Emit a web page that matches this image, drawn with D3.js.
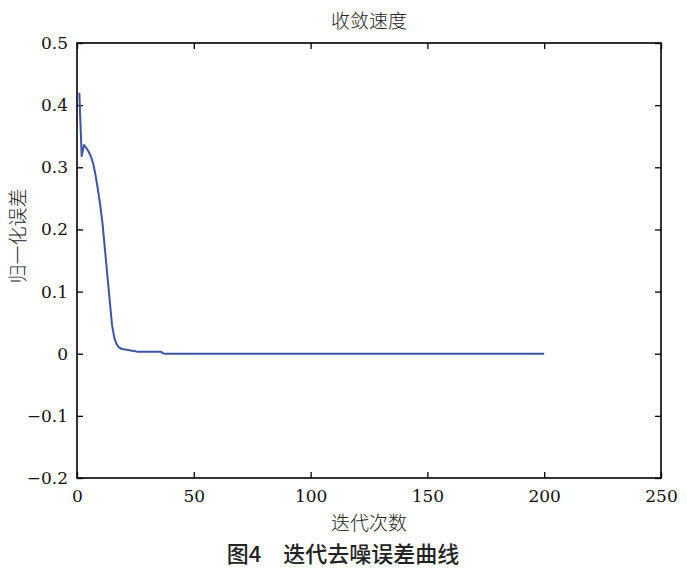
<!DOCTYPE html>
<html><head><meta charset="utf-8">
<script src="https://cdn.jsdelivr.net/npm/d3@7"></script>
<style>body{margin:0;background:#fff}svg{display:block}</style>
</head><body>
<script>
const iterations = [1,2,3,4,5,6,7,8,9,10,11,12,13,14,15,16,17,18,19,20,22,23,25,26,30,35,36,37,38,200];
const errors = [0.420,0.318,0.336,0.331,0.325,0.317,0.305,0.286,0.263,0.238,0.207,0.166,0.126,0.086,0.046,0.025,0.015,0.010,0.008,0.007,0.006,0.005,0.004,0.003,0.003,0.003,0.003,0.0005,0,0];
const xTicks = [0,50,100,150,200,250];
const yTicks = [-0.2,-0.1,0,0.1,0.2,0.3,0.4,0.5];
const titleText = "收敛速度";
const xLabel = "迭代次数";
const yLabel = "归一化误差";
const caption = "图4　迭代去噪误差曲线";

const W = 687, H = 571;
const m = {left:77, right:661, top:43, bottom:478};
const svg = d3.select("body").append("svg").attr("width",W).attr("height",H);
const x = d3.scaleLinear().domain([0,250]).range([m.left,m.right]);
const y = d3.scaleLinear().domain([-0.2,0.5]).range([m.bottom,m.top]);
const fmtY = v => v===0 ? "0" : d3.format(".1f")(v);
const tickFont = "DejaVu Serif, serif";
const cjk = "Noto Sans CJK SC, Noto Sans, sans-serif";

function styleAxis(g){
  g.attr("font-family",tickFont).attr("font-size",17);
  g.select(".domain").remove();
  g.selectAll("line").attr("stroke","#000").attr("stroke-width",1.3);
  g.selectAll("text").attr("fill","#111");
}
svg.append("g").attr("transform",`translate(0,${m.bottom})`)
  .call(d3.axisBottom(x).tickValues(xTicks).tickSizeInner(-6).tickSizeOuter(0).tickPadding(12).tickFormat(d3.format("d")))
  .call(styleAxis);
svg.append("g").attr("transform",`translate(0,${m.top})`)
  .call(d3.axisTop(x).tickValues(xTicks).tickSizeInner(-6).tickSizeOuter(0).tickFormat(""))
  .call(styleAxis);
svg.append("g").attr("transform",`translate(${m.left},0)`)
  .call(d3.axisLeft(y).tickValues(yTicks).tickSizeInner(-6).tickSizeOuter(0).tickPadding(9).tickFormat(fmtY))
  .call(styleAxis);
svg.append("g").attr("transform",`translate(${m.right},0)`)
  .call(d3.axisRight(y).tickValues(yTicks).tickSizeInner(-6).tickSizeOuter(0).tickFormat(""))
  .call(styleAxis);

svg.append("rect").attr("x",m.left).attr("y",m.top).attr("width",m.right-m.left).attr("height",m.bottom-m.top)
  .attr("fill","none").attr("stroke","#000").attr("stroke-width",1.6);

const line = d3.line().x((d,i)=>x(iterations[i])).y(d=>y(d));
svg.append("path").datum(errors).attr("d",line).attr("fill","none")
  .attr("stroke","#3c55a5").attr("stroke-width",2).attr("stroke-linejoin","round");

function label(sel, size, weight){
  return sel.attr("text-anchor","middle").style("font-family",cjk).style("font-size",size+"px")
    .style("font-weight",weight).attr("fill","#222");
}
label(svg.append("text").attr("x",(m.left+m.right)/2).attr("y",28),19,300).text(titleText);
label(svg.append("text").attr("x",(m.left+m.right)/2).attr("y",530),19,300).text(xLabel);
label(svg.append("text").attr("transform","translate(25,236) rotate(-90)"),19,300).text(yLabel);
label(svg.append("text").attr("x",343).attr("y",562),22,500).text(caption);
</script>
</body></html>
